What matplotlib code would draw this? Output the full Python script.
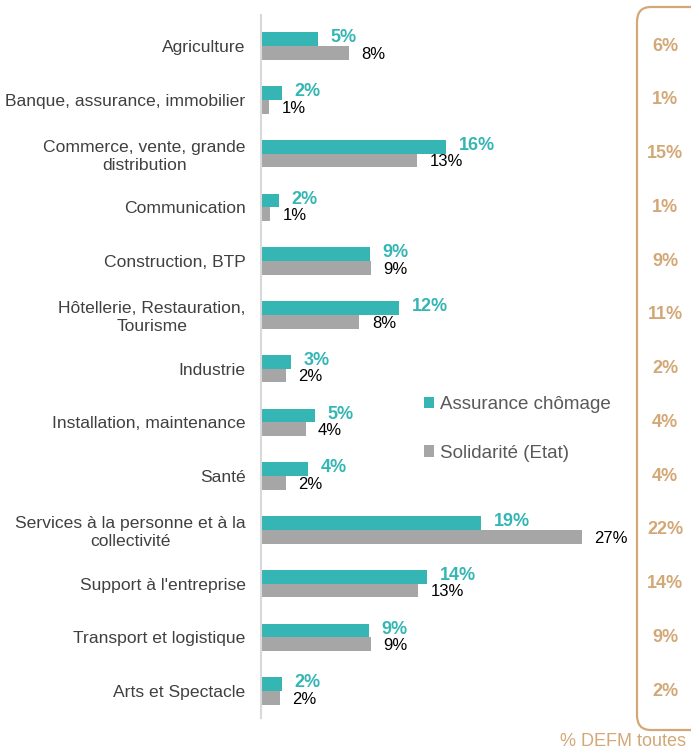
import numpy as np
import matplotlib.pyplot as plt
from matplotlib.patches import FancyBboxPatch

plt.rcParams['font.family'] = ['Liberation Sans', 'DejaVu Sans']

# data (% of job seekers per sector)
categories = ['Agriculture', 'Banque, assurance, immobilier',
              'Commerce, vente, grande\ndistribution', 'Communication',
              'Construction, BTP', 'Hôtellerie, Restauration,\nTourisme',
              'Industrie', 'Installation, maintenance', 'Santé',
              'Services à la personne et à la\ncollectivité',
              "Support à l'entreprise", 'Transport et logistique',
              'Arts et Spectacle']
assurance = [4.9, 1.8, 15.8, 1.5, 9.3, 11.8, 2.6, 4.6, 4.0, 18.8, 14.2, 9.2, 1.8]
solidarite = [7.5, 0.7, 13.3, 0.8, 9.4, 8.4, 2.1, 3.8, 2.1, 27.4, 13.4, 9.4, 1.6]
assurance_lbl = ['5%', '2%', '16%', '2%', '9%', '12%', '3%', '5%', '4%', '19%', '14%', '9%', '2%']
solidarite_lbl = ['8%', '1%', '13%', '1%', '9%', '8%', '2%', '4%', '2%', '27%', '13%', '9%', '2%']
defm_toutes = ['6%', '1%', '15%', '1%', '9%', '11%', '2%', '4%', '4%', '22%', '14%', '9%', '2%']

teal = '#35B6B4'
grey = '#A6A6A6'
tan = '#D3A877'

W, H = 691, 751
fig = plt.figure(figsize=(W / 100, H / 100), dpi=100)
ax = fig.add_axes([261 / W, 1 - 718 / H, 375 / W, 703 / H])

y = np.arange(len(categories))
bh = 0.255
b1 = ax.barh(y - bh / 2, assurance, height=bh, color=teal, label='Assurance chômage')
b2 = ax.barh(y + bh / 2, solidarite, height=bh, color=grey, label='Solidarité (Etat)')

for i in range(len(categories)):
    ax.annotate(assurance_lbl[i], (assurance[i], y[i] - bh / 2), xytext=(9, 1),
                textcoords='offset points', va='center', ha='left',
                fontsize=13, fontweight='bold', color=teal)
    ax.annotate(solidarite_lbl[i], (solidarite[i], y[i] + bh / 2), xytext=(9, -1),
                textcoords='offset points', va='center', ha='left',
                fontsize=12, color='black')

ax.set_xlim(0, 32)
ax.set_ylim(len(categories) - 1 + 0.5, -0.58)
ax.set_yticks(y)
ax.set_yticklabels(categories, fontsize=12.6, color='#404040', multialignment='center')
ax.tick_params(axis='y', length=0, pad=11)
ax.set_xticks([])
for s in ['top', 'right', 'bottom']:
    ax.spines[s].set_visible(False)
ax.spines['left'].set_color('#D9D9D9')
ax.spines['left'].set_linewidth(1.5)

# right-hand column: all job seekers
for i, v in enumerate(defm_toutes):
    ax.text(665, ax.transData.transform((0, y[i]))[1], v, transform=None,
            ha='center', va='center', fontsize=13, fontweight='bold', color=tan)

box = FancyBboxPatch((637 / W, 1 - 730 / H), 80 / W, 723 / H,
                     boxstyle='round,pad=0,rounding_size=0.02',
                     transform=fig.transFigure, fill=False, edgecolor=tan,
                     linewidth=1.6, clip_on=False)
fig.patches.append(box)
fig.text(560 / W, 1 - 742 / H, '% DEFM toutes', fontsize=13, color=tan,
         ha='left', va='center')

leg = fig.legend(handles=[b1, b2], loc='upper left',
                 bbox_to_anchor=(407 / W, 1 - 379 / H), frameon=False,
                 fontsize=13.5, handlelength=0.55, handleheight=0.55,
                 handletextpad=0.3, labelspacing=1.7)
for t in leg.get_texts():
    t.set_color('#595959')

fig.savefig('out.png', dpi=100)
